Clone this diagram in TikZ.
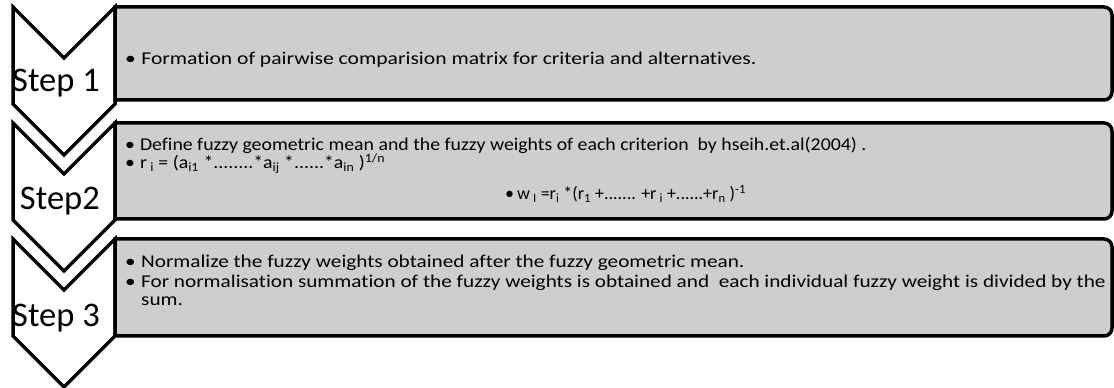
\documentclass[tikz,border=0pt]{standalone}
\usepackage{fontspec}
\usepackage{graphicx}
\setmainfont{Carlito}[Ligatures={NoCommon}]
\definecolor{boxgray}{RGB}{206,206,206}
\tikzset{
    chevron/.style={draw=black, line width=3.5pt, fill=white, line join=miter},
    stepbox/.style={draw=black, line width=3.5pt, fill=boxgray},
    steplabel/.style={anchor=base east, inner sep=0pt, font=\fontsize{34.5}{38}\selectfont},
    bullettext/.style={anchor=base west, inner sep=0pt, font=\fontsize{18}{20}\selectfont},
}
\newcommand{\chevronat}[1]{\draw[chevron] (13,#1) -- (64,#1-51) -- (115,#1) -- (115,#1-97) -- (64,#1-148) -- (13,#1-97) -- cycle;}
\newcommand{\stepboxat}[2]{\draw[stepbox] (115,#1) -- (1104,#1) arc[start angle=90, end angle=0, radius=8] -- (1112,#2+8) arc[start angle=0, end angle=-90, radius=8] -- (115,#2) -- cycle;}
\newcommand{\bul}{\makebox[13.5pt][l]{•}}
\newcommand{\wide}[2]{\scalebox{#1}[1]{#2}}

\begin{document}
\begin{tikzpicture}[x=1pt, y=1pt]
    \useasboundingbox (0,0) rectangle (1114,388);

    % chevrons and boxes, top to bottom
    \foreach \top/\bot in {381/288, 265/169, 149/52} {
        \chevronat{\top}
        \stepboxat{\top}{\bot}
    }

    % step labels
    \node[steplabel] (step1) at (100,296) {Step 1};
    \node[steplabel] (step2) at (100,178) {Step2};
    \node[steplabel] (step3) at (100,61) {Step 3};

    % Step 1: pairwise comparison
    \node[bullettext] (formation) at (125,323) {\wide{1.2}{\bul Formation of pairwise comparision matrix for criteria and alternatives.}};

    % Step 2: fuzzy geometric mean and weights
    \node[bullettext] (define) at (125,237) {\wide{1.1}{\bul Define fuzzy geometric mean and the fuzzy weights of each criterion \ by hseih.et.al(2004) .}};
    \node[bullettext] (rmean) at (125,219) {\wide{1.1}{\bul r\,\textsubscript{i} = (a\textsubscript{i1} *........*a\textsubscript{ij} *......*a\textsubscript{in} )\textsuperscript{1/n}}};
    \node[bullettext] (weight) at (505,188) {•\,w\,\textsubscript{I} =r\textsubscript{i} *(r\textsubscript{1} +....... +r\,\textsubscript{i} +......+r\textsubscript{n} )\textsuperscript{-1}};

    % Step 3: normalisation
    \node[bullettext] (normalize) at (125,120) {\wide{1.18}{\bul Normalize the fuzzy weights obtained after the fuzzy geometric mean.}};
    \node[bullettext] (summation) at (125,100) {\wide{1.18}{\bul For normalisation summation of the fuzzy weights is obtained and \ each individual fuzzy weight is divided by the}};
    \node[bullettext] (sumend) at (141,82) {\wide{1.18}{sum.}};

\end{tikzpicture}
\end{document}
